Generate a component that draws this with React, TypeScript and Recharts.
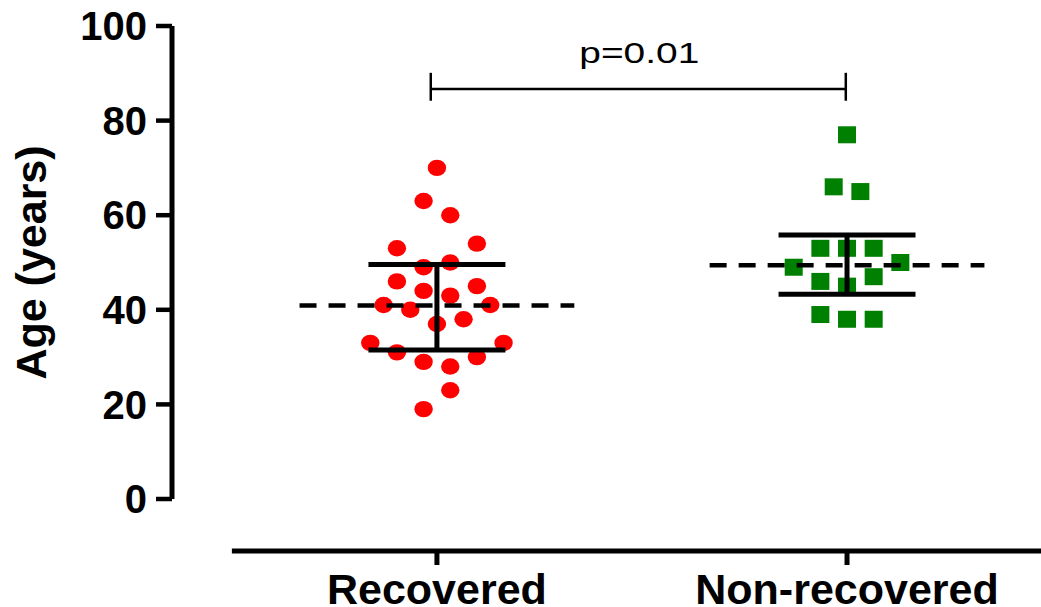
import React from 'react';
import { ScatterChart, Scatter, XAxis, YAxis, ReferenceLine } from 'recharts';

const FONT = '"Liberation Sans", Arial, Helvetica, sans-serif';

// groups on the x axis (group 1 and group 2)
const categories = ['Recovered', 'Non-recovered'];
const yTicks = [0, 20, 40, 60, 80, 100];

// ages, with the jitter slot of each point (in steps left/right of the group centre)
const recoveredAges = [70, 63, 60, 53, 54, 49, 50, 46, 45, 44, 43, 41, 41, 40, 37, 38, 33, 33, 31, 29, 28, 30, 23, 19];
const recoveredSlots = [0, -1, 1, -3, 3, -1, 1, -3, 3, -1, 1, -4, 4, -2, 0, 2, -5, 5, -3, -1, 1, 3, 1, -1];
const nonRecoveredAges = [77, 66, 65, 53, 53, 53, 49, 50, 46, 45, 47, 39, 38, 38];
const nonRecoveredSlots = [0, -1, 1, -2, 0, 2, -4, 4, -2, 0, 2, -2, 0, 2];

// summary lines per group: centre (dashed) and error bar ends
const centreValues = [40.9, 49.4];
const barLow = [31.5, 43.3];
const barHigh = [49.6, 55.8];

const pLabel = 'p=0.01';

const JITTER = 0.0325;
const DASH_HALF = 0.335;
const CAP_HALF = 0.167;

const recoveredData = recoveredAges.map((age, i) => ({ x: 1 + recoveredSlots[i] * JITTER, y: age }));
const nonRecoveredData = nonRecoveredAges.map((age, i) => ({ x: 2 + nonRecoveredSlots[i] * JITTER, y: age }));

const RedDot = (p: any) => <ellipse cx={p.cx} cy={p.cy} rx={9.2} ry={8.2} fill="#ff0000" />;
const GreenSquare = (p: any) => <rect x={p.cx - 9} y={p.cy - 8.5} width={18} height={17} fill="#008000" />;

const CategoryTick = (props: any) => {
  const { x, y, payload } = props;
  return (
    <g>
      <line x1={x} x2={x} y1={y + 51} y2={y + 66} stroke="#000" strokeWidth={5} />
      <text x={x} y={y + 105} textAnchor="middle" fontFamily={FONT} fontWeight="bold" fontSize={43} fill="#000">
        {categories[payload.value - 1]}
      </text>
    </g>
  );
};

const AgeLabel = (props: any) => {
  const vb = props.viewBox;
  const cx = vb.x + 46;
  const cy = vb.y + vb.height / 2;
  return (
    <text x={cx} y={cy} transform={`rotate(-90 ${cx} ${cy})`} textAnchor="middle" fontFamily={FONT} fontWeight="bold" fontSize={43} fill="#000">
      Age (years)
    </text>
  );
};

const PLabel = (props: any) => {
  const vb = props.viewBox;
  const cx = vb.x + vb.width / 2 + 1;
  return (
    <text x={cx} y={vb.y - 26} textAnchor="middle" fontFamily={FONT} fontSize={30} fill="#000" textLength={120} lengthAdjust="spacingAndGlyphs">
      {pLabel}
    </text>
  );
};

export default function App() {
  return (
    <div style={{ position: 'absolute', left: 0, top: 0 }}>
      <ScatterChart width={1041} height={607} margin={{ top: 26, right: 0, bottom: 0, left: 0 }}>
        <XAxis
          type="number"
          dataKey="x"
          domain={[0.354, 2.473]}
          ticks={[1, 2]}
          axisLine={false}
          tickLine={false}
          tickSize={0}
          tickMargin={0}
          height={108}
          tick={<CategoryTick />}
        />
        <YAxis
          type="number"
          dataKey="y"
          domain={[0, 100]}
          ticks={yTicks}
          width={172}
          axisLine={{ stroke: '#000', strokeWidth: 5 }}
          tickLine={{ stroke: '#000', strokeWidth: 4.5 }}
          tickSize={16}
          tickMargin={9}
          tick={{ fill: '#000', fontFamily: FONT, fontWeight: 'bold', fontSize: 40 }}
          label={<AgeLabel />}
        />
        <Scatter data={recoveredData} shape={RedDot} isAnimationActive={false} />
        <Scatter data={nonRecoveredData} shape={GreenSquare} isAnimationActive={false} />

        {/* x axis line, set below the y range */}
        <ReferenceLine segment={[{ x: 0.5, y: -11 }, { x: 2.473, y: -11 }]} stroke="#000" strokeWidth={5} ifOverflow="visible" zIndex={900} />

        {centreValues.map((v, i) => (
          <ReferenceLine key={`c${i}`} segment={[{ x: i + 1 - DASH_HALF, y: v }, { x: i + 1 + DASH_HALF, y: v }]} stroke="#000" strokeWidth={4.5} strokeDasharray="17 12" ifOverflow="visible" zIndex={900} />
        ))}
        {barHigh.map((v, i) => (
          <ReferenceLine key={`h${i}`} segment={[{ x: i + 1 - CAP_HALF, y: v }, { x: i + 1 + CAP_HALF, y: v }]} stroke="#000" strokeWidth={5} ifOverflow="visible" zIndex={900} />
        ))}
        {barLow.map((v, i) => (
          <ReferenceLine key={`l${i}`} segment={[{ x: i + 1 - CAP_HALF, y: v }, { x: i + 1 + CAP_HALF, y: v }]} stroke="#000" strokeWidth={5} ifOverflow="visible" zIndex={900} />
        ))}
        {barLow.map((v, i) => (
          <ReferenceLine key={`v${i}`} segment={[{ x: i + 1, y: v }, { x: i + 1, y: barHigh[i] }]} stroke="#000" strokeWidth={5} ifOverflow="visible" zIndex={900} />
        ))}

        {/* significance bracket */}
        <ReferenceLine segment={[{ x: 0.985, y: 86.7 }, { x: 1.997, y: 86.7 }]} stroke="#000" strokeWidth={2.5} ifOverflow="visible" label={<PLabel />} />
        <ReferenceLine segment={[{ x: 0.985, y: 84.2 }, { x: 0.985, y: 90.1 }]} stroke="#000" strokeWidth={2.5} ifOverflow="visible" />
        <ReferenceLine segment={[{ x: 1.997, y: 84.2 }, { x: 1.997, y: 90.1 }]} stroke="#000" strokeWidth={2.5} ifOverflow="visible" />
      </ScatterChart>
    </div>
  );
}
